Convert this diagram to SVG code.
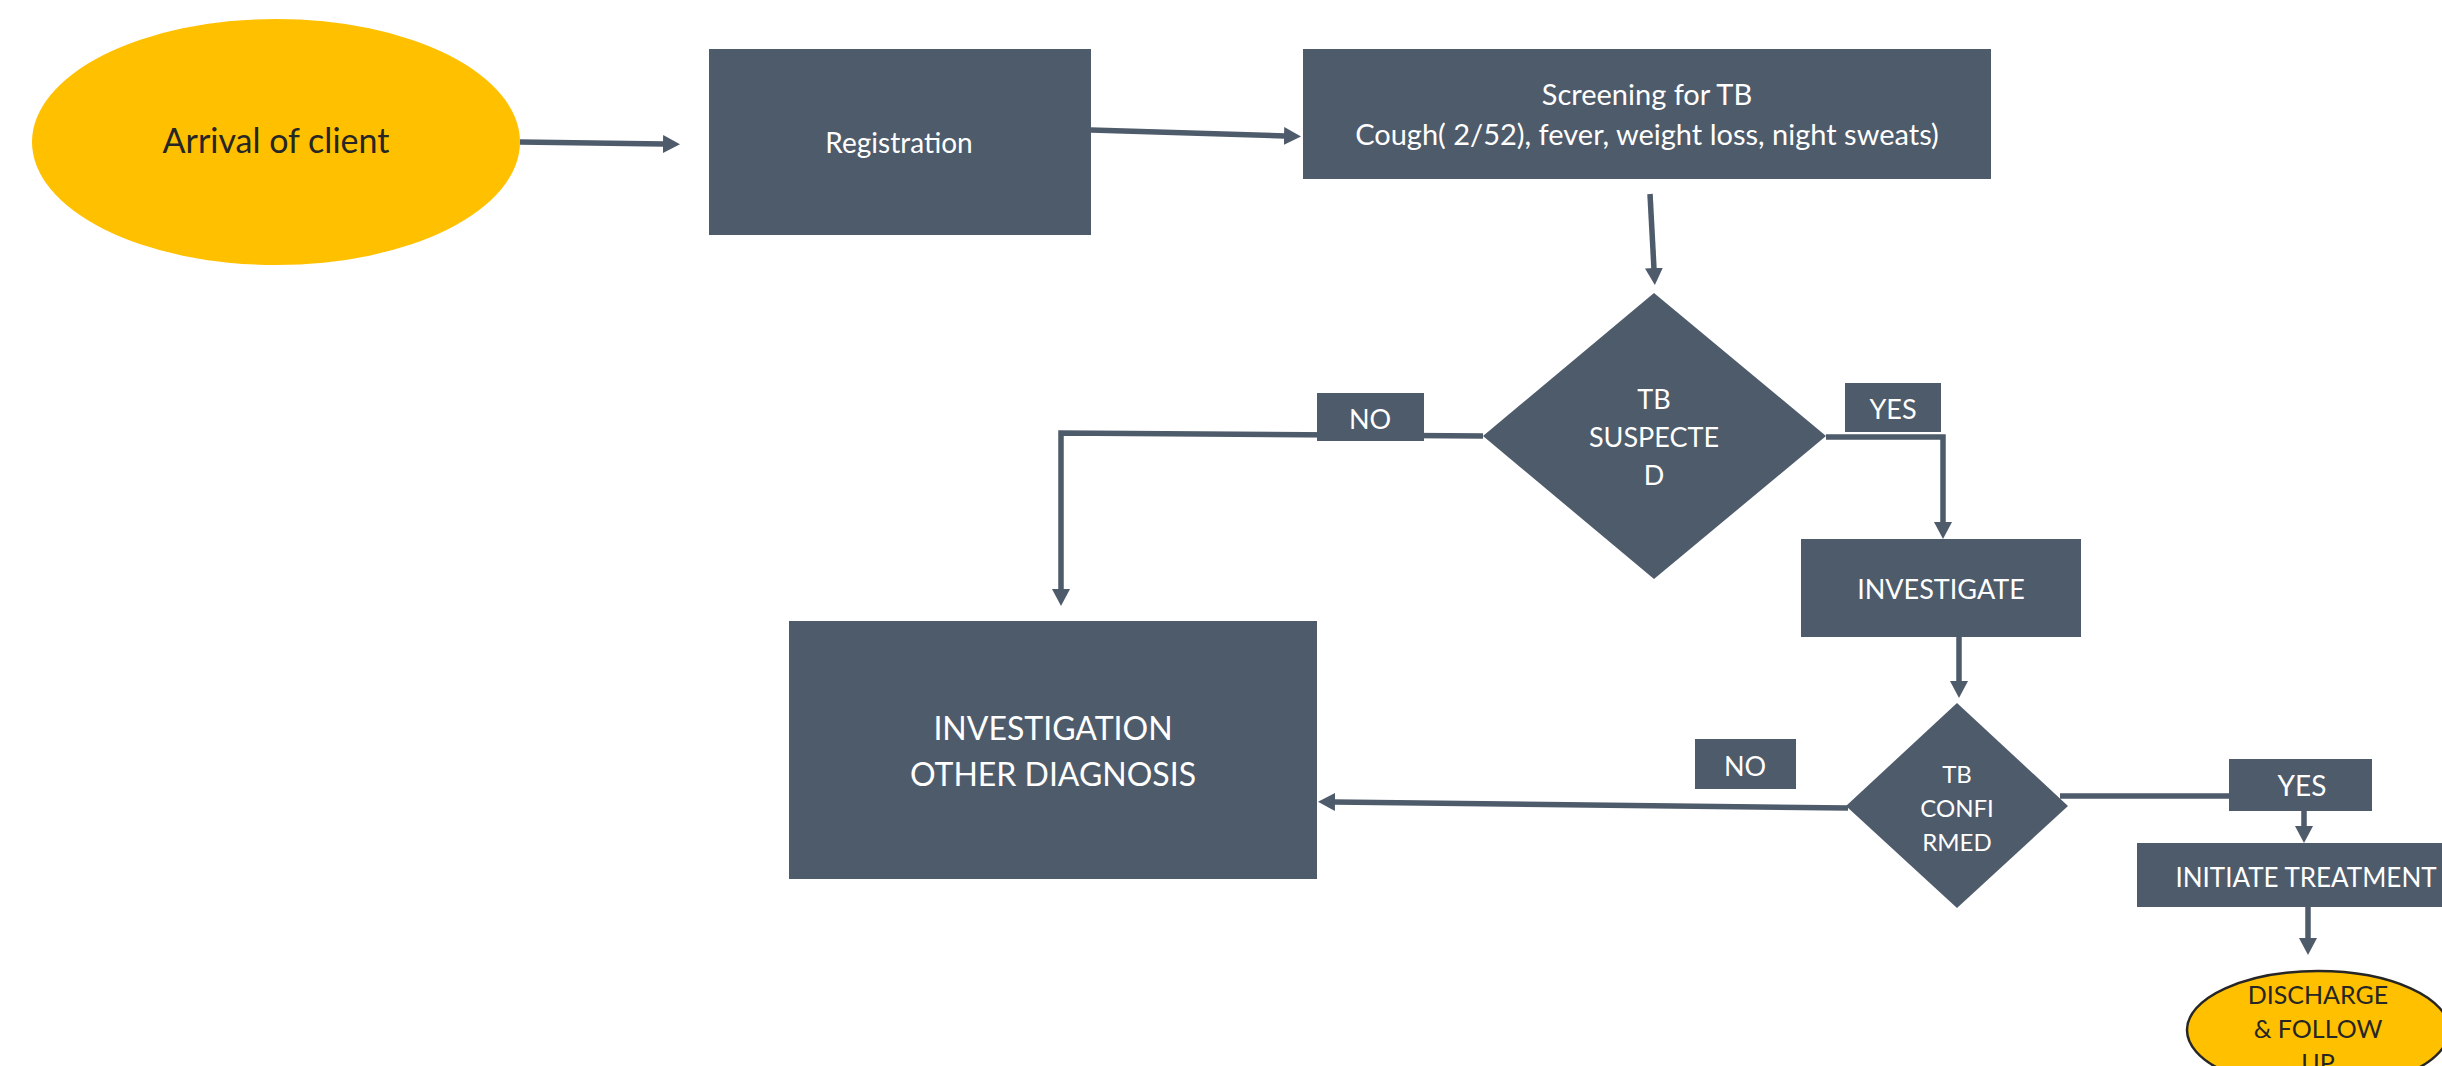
<svg xmlns="http://www.w3.org/2000/svg" width="2442" height="1066" viewBox="0 0 2442 1066">
<style>
.box{fill:#4E5B6B}
.term{fill:#FFC000}
.wt{fill:#FFFFFF;font-family:Lato,"Open Sans",sans-serif;text-anchor:middle}
.dt{fill:#262626;font-family:Lato,"Open Sans",sans-serif;text-anchor:middle}
.conn{fill:none;stroke:#4E5B6B;stroke-width:5.5;stroke-linejoin:miter}
</style>
<defs>
<marker id="arr" markerUnits="userSpaceOnUse" markerWidth="18" markerHeight="18" viewBox="0 0 18 18" refX="1" refY="9" orient="auto">
<path d="M0,0 L17,9 L0,18 Z" fill="#4E5B6B"/>
</marker>
</defs>
<rect width="2442" height="1066" fill="#FFFFFF"/>

<g id="connectors">
<path class="conn" d="M520,142 L664,144" marker-end="url(#arr)"/>
<path class="conn" d="M1091,130 L1285,136" marker-end="url(#arr)"/>
<path class="conn" d="M1650,194 L1654,269" marker-end="url(#arr)"/>
<path class="conn" d="M1483,436 L1061,433 L1061,590" marker-end="url(#arr)"/>
<path class="conn" d="M1826,437 L1943,437 L1943,523" marker-end="url(#arr)"/>
<path class="conn" d="M1959,637 L1959,682" marker-end="url(#arr)"/>
<path class="conn" d="M1848,808 L1334,802" marker-end="url(#arr)"/>
<path class="conn" d="M2060,796 L2304,796 L2304,827" marker-end="url(#arr)"/>
<path class="conn" d="M2308,907 L2308,939" marker-end="url(#arr)"/>
</g>

<g id="arrival">
<ellipse class="term" cx="276" cy="142" rx="244" ry="123"/>
<text class="dt" x="276" y="153" font-size="34">Arrival of client</text>
</g>

<g id="registration">
<rect class="box" x="709" y="49" width="382" height="186"/>
<text class="wt" x="899" y="153" font-size="28">Registration</text>
</g>

<g id="screening">
<rect class="box" x="1303" y="49" width="688" height="130"/>
<text class="wt" x="1647" y="105" font-size="29">Screening for TB</text>
<text class="wt" x="1647" y="145" font-size="29">Cough( 2/52), fever, weight loss, night sweats)</text>
</g>

<g id="tb-suspected">
<polygon class="box" points="1654,293 1826,436 1654,579 1483,436"/>
<text class="wt" x="1654" y="409" font-size="27">TB</text>
<text class="wt" x="1654" y="447" font-size="27">SUSPECTE</text>
<text class="wt" x="1654" y="485" font-size="27">D</text>
</g>

<g id="label-no-1">
<rect class="box" x="1317" y="393" width="107" height="48"/>
<text class="wt" x="1370" y="429" font-size="27">NO</text>
</g>

<g id="label-yes-1">
<rect class="box" x="1845" y="383" width="96" height="49"/>
<text class="wt" x="1893" y="419" font-size="27">YES</text>
</g>

<g id="investigate">
<rect class="box" x="1801" y="539" width="280" height="98"/>
<text class="wt" x="1941" y="599" font-size="27">INVESTIGATE</text>
</g>

<g id="investigation-other">
<rect class="box" x="789" y="621" width="528" height="258"/>
<text class="wt" x="1053" y="740" font-size="32">INVESTIGATION</text>
<text class="wt" x="1053" y="786" font-size="32">OTHER DIAGNOSIS</text>
</g>

<g id="tb-confirmed">
<polygon class="box" points="1957,703 2068,806 1957,908 1846,806"/>
<text class="wt" x="1957" y="783" font-size="24">TB</text>
<text class="wt" x="1957" y="817" font-size="24">CONFI</text>
<text class="wt" x="1957" y="851" font-size="24">RMED</text>
</g>

<g id="label-no-2">
<rect class="box" x="1695" y="739" width="101" height="50"/>
<text class="wt" x="1745" y="776" font-size="27">NO</text>
</g>

<g id="label-yes-2">
<rect class="box" x="2229" y="759" width="143" height="52"/>
<text class="wt" x="2302" y="796" font-size="28">YES</text>
</g>

<g id="initiate-treatment">
<rect class="box" x="2137" y="843" width="340" height="64"/>
<text class="wt" x="2306" y="887" font-size="26">INITIATE TREATMENT</text>
</g>

<g id="discharge">
<ellipse class="term" cx="2318" cy="1030" rx="131" ry="59" stroke="#262626" stroke-width="2.5"/>
<text class="dt" x="2318" y="1004" font-size="25">DISCHARGE</text>
<text class="dt" x="2318" y="1038" font-size="25">&amp; FOLLOW</text>
<text class="dt" x="2318" y="1072" font-size="25">UP</text>
</g>
</svg>
